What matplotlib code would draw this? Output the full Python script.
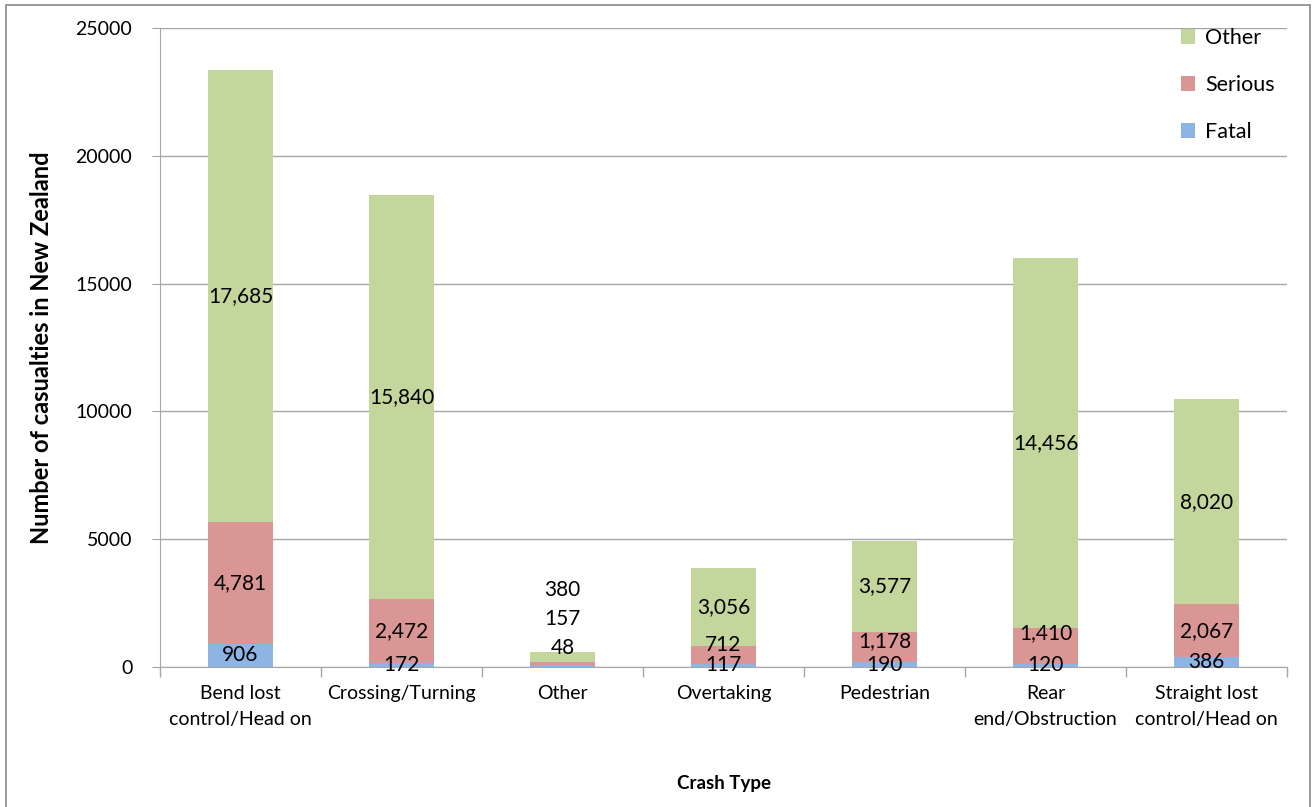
import matplotlib.pyplot as plt
import numpy as np
from matplotlib.patches import Rectangle

plt.rcParams['font.family'] = ['Lato', 'DejaVu Sans']

crash_types = ['Bend lost\ncontrol/Head on', 'Crossing/Turning', 'Other', 'Overtaking',
               'Pedestrian', 'Rear\nend/Obstruction', 'Straight lost\ncontrol/Head on']
fatal = [906, 172, 48, 117, 190, 120, 386]
serious = [4781, 2472, 157, 712, 1178, 1410, 2067]
other = [17685, 15840, 380, 3056, 3577, 14456, 8020]

c_fatal = '#8EB4E3'
c_serious = '#D99694'
c_other = '#C3D69B'

fig = plt.figure(figsize=(13.14, 8.07), dpi=100)
ax = fig.add_axes([0.1218, 0.1735, 0.8577, 0.7918])

x = np.arange(len(crash_types))
w = 0.4
ax.bar(x, fatal, w, color=c_fatal, label='Fatal', zorder=3)
ax.bar(x, serious, w, bottom=fatal, color=c_serious, label='Serious', zorder=3)
bottom2 = np.array(fatal) + np.array(serious)
ax.bar(x, other, w, bottom=bottom2, color=c_other, label='Other', zorder=3)

# value labels centred in each segment; short stacks get nudged up so they don't collide
shift = {2: (13, 32, 48), 3: (0, 7, 0), 4: (0, 4, 0), 5: (0, 9, 0)}
for i in range(len(x)):
    segs = [(fatal[i], 0), (serious[i], fatal[i]), (other[i], bottom2[i])]
    for k, (v, b) in enumerate(segs):
        dy = shift.get(i, (0, 0, 0))[k]
        ax.annotate(f'{v:,}', (x[i], b + v / 2), xytext=(0, dy), textcoords='offset points',
                    ha='center', va='center', fontsize=15, color='black', zorder=4)

ax.set_xlim(-0.5, len(x) - 0.5)
ax.set_ylim(0, 25000)
ax.set_yticks(range(0, 25001, 5000))
ax.set_yticklabels([str(v) for v in range(0, 25001, 5000)], fontsize=14)
ax.yaxis.grid(True, color='#A6A6A6', linewidth=1, zorder=0)

ax.set_xticks(x)
ax.set_xticklabels(crash_types, fontsize=14, linespacing=1.65)
ax.tick_params(axis='x', length=0, pad=13)
ax.set_xticks(np.arange(-0.5, len(x), 1), minor=True)
ax.tick_params(axis='x', which='minor', length=7, color='#A6A6A6', width=1)
ax.tick_params(axis='y', length=6, color='#A6A6A6', pad=14)

for s in ['top', 'right']:
    ax.spines[s].set_visible(False)
for s in ['left', 'bottom']:
    ax.spines[s].set_color('#A6A6A6')

ax.set_ylabel('Number of casualties in New Zealand', fontsize=17, fontweight='bold', labelpad=16)
ax.set_xlabel('Crash Type', fontsize=13.5, fontweight='bold', labelpad=34)

h, l = ax.get_legend_handles_labels()
ax.legend(h[::-1], l[::-1], loc='upper right', bbox_to_anchor=(1.006, 1.03), frameon=False,
          fontsize=15.5, handlelength=0.65, handleheight=0.65, labelspacing=1.25,
          handletextpad=0.45)

fig.patches.append(Rectangle((6 / 1314, -0.01), 1304 / 1314, 1 - 5 / 807 + 0.01,
                             transform=fig.transFigure, fill=False, edgecolor='#888888',
                             linewidth=1.2))

fig.savefig('out.png', dpi=100)
